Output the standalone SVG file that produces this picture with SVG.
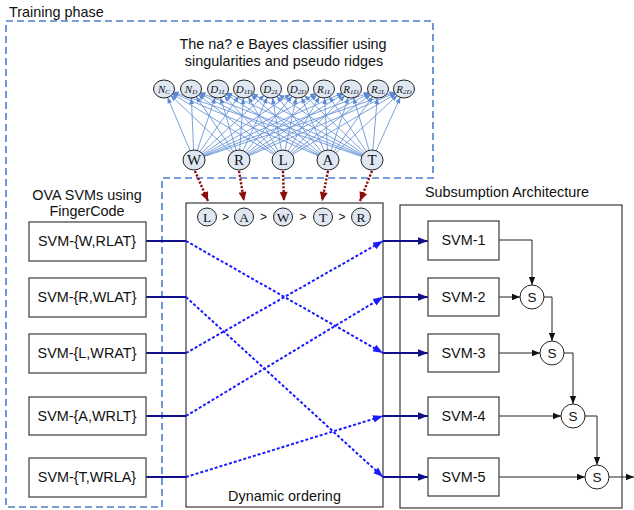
<svg xmlns="http://www.w3.org/2000/svg" width="634" height="510" viewBox="0 0 634 510">
<style>
text{font-family:"Liberation Sans",Arial,sans-serif;fill:#111}
.t{font-size:14.4px}
.c{text-anchor:middle}
.serif{font-family:"Liberation Serif","Times New Roman",serif}
.box{fill:#fff;stroke:#4a4a4a;stroke-width:1.3}
.frame{fill:none;stroke:#3a3a3a;stroke-width:1.2}
.dash{fill:none;stroke:#4f7fc8;stroke-width:1.6;stroke-dasharray:7 4}
.net line{stroke:#5b8ad4;stroke-width:0.8;marker-end:url(#bn)}
.red{stroke:#8b0a0a;stroke-width:2.4;stroke-dasharray:2.2 1.6;fill:none;marker-end:url(#rd)}
.nv{stroke:#10108a;stroke-width:1.8;fill:none}
.nva{stroke:#10108a;stroke-width:1.8;fill:none;marker-end:url(#nvh)}
.dot{stroke:#1a1aff;stroke-width:2;stroke-dasharray:3 2;fill:none;marker-end:url(#bd)}
.k{stroke:#222;stroke-width:1;fill:none;marker-end:url(#kh)}
.node{fill:#dfe7f3;stroke:#222;stroke-width:1}
.sn{fill:#fff;stroke:#222;stroke-width:1}
.fl{font-size:11px;font-style:italic}
.sb{font-size:7px}
</style>
<defs>
<marker id="bn" markerUnits="userSpaceOnUse" viewBox="0 -5 20 10" markerWidth="20" markerHeight="10" refX="19" refY="0" orient="auto"><path d="M4,-2.4 L10,0 L4,2.4 z" fill="#5b8ad4"/></marker>
<marker id="rd" markerUnits="userSpaceOnUse" viewBox="0 -5 10 10" markerWidth="10" markerHeight="10" refX="10" refY="0" orient="auto"><path d="M1,-4 L10,0 L1,4 z" fill="#8b0a0a"/></marker>
<marker id="bd" markerUnits="userSpaceOnUse" viewBox="0 -5 10 10" markerWidth="10" markerHeight="10" refX="10" refY="0" orient="auto"><path d="M0,-3.8 L10,0 L0,3.8 z" fill="#1a1aff"/></marker>
<marker id="nvh" markerUnits="userSpaceOnUse" viewBox="0 -5 10 10" markerWidth="10" markerHeight="10" refX="10" refY="0" orient="auto"><path d="M0,-3.8 L10,0 L0,3.8 z" fill="#10108a"/></marker>
<marker id="kh" markerUnits="userSpaceOnUse" viewBox="0 -4 8 8" markerWidth="8" markerHeight="8" refX="8" refY="0" orient="auto"><path d="M0,-3.2 L8,0 L0,3.2 z" fill="#111"/></marker>
</defs>

<g id="frames">
<path class="dash" d="M6,21 H433 V178 H162 V507 H6 Z"/>
<text class="t" x="9" y="17">Training phase</text>
<rect class="frame" x="186" y="203" width="197" height="304"/>
<text class="t c" x="284.5" y="501">Dynamic ordering</text>
<rect class="frame" x="400" y="205" width="222" height="303"/>
<text class="t c" x="507" y="197">Subsumption Architecture</text>
<text class="t c" x="87" y="200">OVA SVMs using</text>
<text class="t c" x="87" y="216">FingerCode</text>
<text class="t c" x="283" y="49">The na? e Bayes classifier using</text>
<text class="t c" x="284" y="66">singularities and pseudo ridges</text>
</g>

<g id="connectors">
<g class="net">
<line x1="194" y1="160" x2="164" y2="89"/><line x1="194" y1="160" x2="191" y2="89"/><line x1="194" y1="160" x2="218" y2="89"/><line x1="194" y1="160" x2="244" y2="89"/><line x1="194" y1="160" x2="271" y2="89"/><line x1="194" y1="160" x2="298" y2="89"/><line x1="194" y1="160" x2="324" y2="89"/><line x1="194" y1="160" x2="351" y2="89"/><line x1="194" y1="160" x2="378" y2="89"/><line x1="194" y1="160" x2="404" y2="89"/>
<line x1="239" y1="160" x2="164" y2="89"/><line x1="239" y1="160" x2="191" y2="89"/><line x1="239" y1="160" x2="218" y2="89"/><line x1="239" y1="160" x2="244" y2="89"/><line x1="239" y1="160" x2="271" y2="89"/><line x1="239" y1="160" x2="298" y2="89"/><line x1="239" y1="160" x2="324" y2="89"/><line x1="239" y1="160" x2="351" y2="89"/><line x1="239" y1="160" x2="378" y2="89"/><line x1="239" y1="160" x2="404" y2="89"/>
<line x1="283" y1="160" x2="164" y2="89"/><line x1="283" y1="160" x2="191" y2="89"/><line x1="283" y1="160" x2="218" y2="89"/><line x1="283" y1="160" x2="244" y2="89"/><line x1="283" y1="160" x2="271" y2="89"/><line x1="283" y1="160" x2="298" y2="89"/><line x1="283" y1="160" x2="324" y2="89"/><line x1="283" y1="160" x2="351" y2="89"/><line x1="283" y1="160" x2="378" y2="89"/><line x1="283" y1="160" x2="404" y2="89"/>
<line x1="328" y1="160" x2="164" y2="89"/><line x1="328" y1="160" x2="191" y2="89"/><line x1="328" y1="160" x2="218" y2="89"/><line x1="328" y1="160" x2="244" y2="89"/><line x1="328" y1="160" x2="271" y2="89"/><line x1="328" y1="160" x2="298" y2="89"/><line x1="328" y1="160" x2="324" y2="89"/><line x1="328" y1="160" x2="351" y2="89"/><line x1="328" y1="160" x2="378" y2="89"/><line x1="328" y1="160" x2="404" y2="89"/>
<line x1="372" y1="160" x2="164" y2="89"/><line x1="372" y1="160" x2="191" y2="89"/><line x1="372" y1="160" x2="218" y2="89"/><line x1="372" y1="160" x2="244" y2="89"/><line x1="372" y1="160" x2="271" y2="89"/><line x1="372" y1="160" x2="298" y2="89"/><line x1="372" y1="160" x2="324" y2="89"/><line x1="372" y1="160" x2="351" y2="89"/><line x1="372" y1="160" x2="378" y2="89"/><line x1="372" y1="160" x2="404" y2="89"/>
</g>
<path class="red" d="M195,171 L208,201"/>
<path class="red" d="M239,171 L244,201"/>
<path class="red" d="M283,171 L284,201"/>
<path class="red" d="M328,171 L322,201"/>
<path class="red" d="M372,171 L360,201"/>
<path class="nv" d="M146,241 H186 M146,297 H186 M146,353 H186 M146,416 H186 M146,477 H186"/>
<path class="dot" d="M186,241 L383,353"/>
<path class="dot" d="M186,297 L383,477"/>
<path class="dot" d="M186,353 L383,241"/>
<path class="dot" d="M186,416 L383,297"/>
<path class="dot" d="M186,477 L383,416"/>
<path class="nva" d="M383,241 H428"/>
<path class="nva" d="M383,297 H428"/>
<path class="nva" d="M383,353 H428"/>
<path class="nva" d="M383,416 H428"/>
<path class="nva" d="M383,477 H428"/>
<path class="k" d="M499,240 H532 V285"/>
<path class="k" d="M499,297 H520"/>
<path class="k" d="M544,297 H552 V341"/>
<path class="k" d="M499,353 H540"/>
<path class="k" d="M564,353 H573 V404"/>
<path class="k" d="M499,416 H561"/>
<path class="k" d="M585,416 H597 V465"/>
<path class="k" d="M499,477 H585"/>
<path class="k" d="M609,477 H634"/>
</g>

<g id="bayes-features">
<g id="n-nc"><ellipse class="node" cx="164" cy="89" rx="10.5" ry="9"/><text class="serif c fl" x="164" y="92.5">N<tspan class="sb" dy="1.5">C</tspan></text></g>
<g id="n-nd"><ellipse class="node" cx="191" cy="89" rx="10.5" ry="9"/><text class="serif c fl" x="191" y="92.5">N<tspan class="sb" dy="1.5">D</tspan></text></g>
<g id="n-d1l"><ellipse class="node" cx="218" cy="89" rx="10.5" ry="9"/><text class="serif c fl" x="218" y="92.5">D<tspan class="sb" dy="1.5">1L</tspan></text></g>
<g id="n-d1d"><ellipse class="node" cx="244" cy="89" rx="10.5" ry="9"/><text class="serif c fl" x="244" y="92.5">D<tspan class="sb" dy="1.5">1D</tspan></text></g>
<g id="n-d2l"><ellipse class="node" cx="271" cy="89" rx="10.5" ry="9"/><text class="serif c fl" x="271" y="92.5">D<tspan class="sb" dy="1.5">2L</tspan></text></g>
<g id="n-d2d"><ellipse class="node" cx="298" cy="89" rx="10.5" ry="9"/><text class="serif c fl" x="298" y="92.5">D<tspan class="sb" dy="1.5">2D</tspan></text></g>
<g id="n-r1l"><ellipse class="node" cx="324" cy="89" rx="10.5" ry="9"/><text class="serif c fl" x="324" y="92.5">R<tspan class="sb" dy="1.5">1L</tspan></text></g>
<g id="n-r1d"><ellipse class="node" cx="351" cy="89" rx="10.5" ry="9"/><text class="serif c fl" x="351" y="92.5">R<tspan class="sb" dy="1.5">1D</tspan></text></g>
<g id="n-r2l"><ellipse class="node" cx="378" cy="89" rx="10.5" ry="9"/><text class="serif c fl" x="378" y="92.5">R<tspan class="sb" dy="1.5">2L</tspan></text></g>
<g id="n-r2d"><ellipse class="node" cx="404" cy="89" rx="10.5" ry="9"/><text class="serif c fl" x="404" y="92.5">R<tspan class="sb" dy="1.5">2D</tspan></text></g>
</g>

<g id="classes">
<g id="c-w"><ellipse class="node" cx="194" cy="160" rx="11" ry="10"/><text class="serif c" x="194" y="165" font-size="15">W</text></g>
<g id="c-r"><ellipse class="node" cx="239" cy="160" rx="11" ry="10"/><text class="serif c" x="239" y="165" font-size="15">R</text></g>
<g id="c-l"><ellipse class="node" cx="283" cy="160" rx="11" ry="10"/><text class="serif c" x="283" y="165" font-size="15">L</text></g>
<g id="c-a"><ellipse class="node" cx="328" cy="160" rx="11" ry="10"/><text class="serif c" x="328" y="165" font-size="15">A</text></g>
<g id="c-t"><ellipse class="node" cx="372" cy="160" rx="11" ry="10"/><text class="serif c" x="372" y="165" font-size="15">T</text></g>
</g>

<g id="ordering">
<g id="o-l"><ellipse class="node" cx="207" cy="217" rx="9.5" ry="9"/><text class="serif c" x="207" y="221.5" font-size="13.5">L</text></g>
<text class="c" x="225.5" y="221" font-size="12">&gt;</text>
<g id="o-a"><ellipse class="node" cx="244" cy="217" rx="9.5" ry="9"/><text class="serif c" x="244" y="221.5" font-size="13.5">A</text></g>
<text class="c" x="263.5" y="221" font-size="12">&gt;</text>
<g id="o-w"><ellipse class="node" cx="283" cy="217" rx="9.5" ry="9"/><text class="serif c" x="283" y="221.5" font-size="13.5">W</text></g>
<text class="c" x="303" y="221" font-size="12">&gt;</text>
<g id="o-t"><ellipse class="node" cx="323" cy="217" rx="9.5" ry="9"/><text class="serif c" x="323" y="221.5" font-size="13.5">T</text></g>
<text class="c" x="342" y="221" font-size="12">&gt;</text>
<g id="o-r"><ellipse class="node" cx="361" cy="217" rx="9.5" ry="9"/><text class="serif c" x="361" y="221.5" font-size="13.5">R</text></g>
</g>

<g id="ova">
<g id="ova-w"><rect class="box" x="29" y="222" width="117" height="39"/><text class="t c" x="87" y="246">SVM-{W,RLAT}</text></g>
<g id="ova-r"><rect class="box" x="29" y="278" width="117" height="39"/><text class="t c" x="87" y="302">SVM-{R,WLAT}</text></g>
<g id="ova-l"><rect class="box" x="29" y="334" width="117" height="39"/><text class="t c" x="87" y="358">SVM-{L,WRAT}</text></g>
<g id="ova-a"><rect class="box" x="29" y="397" width="117" height="38"/><text class="t c" x="87" y="421">SVM-{A,WRLT}</text></g>
<g id="ova-t"><rect class="box" x="29" y="458" width="117" height="39"/><text class="t c" x="87" y="482">SVM-{T,WRLA}</text></g>
</g>

<g id="subsumption">
<g id="svm1"><rect class="box" x="428" y="221" width="71" height="39"/><text class="t c" x="463.5" y="245">SVM-1</text></g>
<g id="svm2"><rect class="box" x="428" y="278" width="71" height="38"/><text class="t c" x="463.5" y="302">SVM-2</text></g>
<g id="svm3"><rect class="box" x="428" y="334" width="71" height="38"/><text class="t c" x="463.5" y="358">SVM-3</text></g>
<g id="svm4"><rect class="box" x="428" y="397" width="71" height="38"/><text class="t c" x="463.5" y="421">SVM-4</text></g>
<g id="svm5"><rect class="box" x="428" y="458" width="71" height="38"/><text class="t c" x="463.5" y="482">SVM-5</text></g>
<g id="s1"><circle class="sn" cx="532" cy="297" r="12"/><text class="c" x="532" y="302" font-size="13.5">S</text></g>
<g id="s2"><circle class="sn" cx="552" cy="353" r="12"/><text class="c" x="552" y="358" font-size="13.5">S</text></g>
<g id="s3"><circle class="sn" cx="573" cy="416" r="12"/><text class="c" x="573" y="421" font-size="13.5">S</text></g>
<g id="s4"><circle class="sn" cx="597" cy="477" r="12"/><text class="c" x="597" y="482" font-size="13.5">S</text></g>
</g>
</svg>
